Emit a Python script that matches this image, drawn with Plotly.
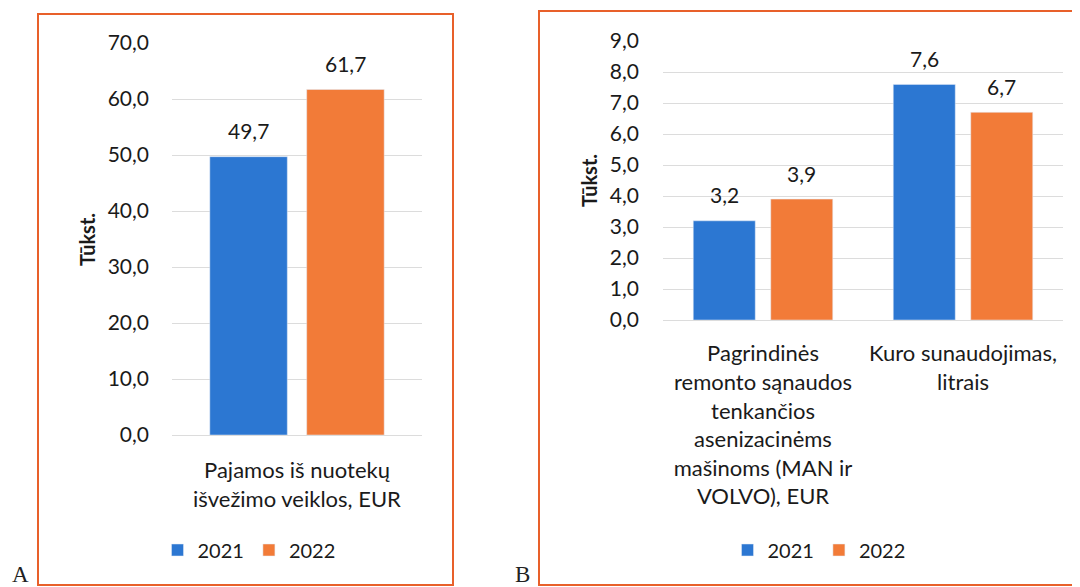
import plotly.graph_objects as go

# ---- data ----
years = ["2021", "2022"]
cats_a = ["Pajamos iš nuotekų<br>išvežimo veiklos, EUR"]
vals_a_2021 = [49.7]
vals_a_2022 = [61.7]

cats_b = ["Pagrindinės<br>remonto sąnaudos<br>tenkančios<br>asenizacinėms<br>mašinoms (MAN ir<br>VOLVO), EUR",
          "Kuro sunaudojimas,<br>litrais"]
vals_b_2021 = [3.2, 7.6]
vals_b_2022 = [3.9, 6.7]

yticks_a = [0, 10, 20, 30, 40, 50, 60, 70]
yticks_b = [0, 1, 2, 3, 4, 5, 6, 7, 8, 9]

# ---- style ----
W, H = 1080, 587
OX, OY = 8, 8          # page offset of the figure in the browser
FONT = "Lato"
BLUE = "#2C77D2"
ORANGE = "#F27B38"
BORDER = "#E8602A"
GRID = "#DCDCDC"
TXT = "#1a1a1a"
BARGAP = 0.225
GROUPGAP = 0.2

def px(x):
    return (x - OX) / W

def py(y):
    return 1 - (y - OY) / H

fig = go.Figure()

fig.add_trace(go.Bar(x=cats_a, y=vals_a_2021, name=years[0], marker_color=BLUE,
                     xaxis="x", yaxis="y", legend="legend"))
fig.add_trace(go.Bar(x=cats_a, y=vals_a_2022, name=years[1], marker_color=ORANGE,
                     xaxis="x", yaxis="y", legend="legend"))
fig.add_trace(go.Bar(x=cats_b, y=vals_b_2021, name=years[0], marker_color=BLUE,
                     xaxis="x2", yaxis="y2", legend="legend2"))
fig.add_trace(go.Bar(x=cats_b, y=vals_b_2022, name=years[1], marker_color=ORANGE,
                     xaxis="x2", yaxis="y2", legend="legend2"))

# plot areas (pixel positions in the reference)
A_L, A_R, A_T, A_B = 172, 422, 43, 435
B_L, B_R, B_T, B_B = 663, 1063, 41, 320

annotations = []

def add_labels(cats, v1, v2, xa, ya, left, right):
    cw = (right - left) / len(cats)
    off = cw * (1 - BARGAP) / 4
    for c, a, b in zip(cats, v1, v2):
        for val, sh in ((a, -off), (b, off)):
            annotations.append(dict(x=c, y=val, xref=xa, yref=ya, text=f"{val:.1f}".replace(".", ","),
                                    showarrow=False, xshift=sh, yshift=26, yanchor="middle",
                                    font=dict(family=FONT, size=21, color=TXT)))

add_labels(cats_a, vals_a_2021, vals_a_2022, "x", "y", A_L, A_R)
add_labels(cats_b, vals_b_2021, vals_b_2022, "x2", "y2", B_L, B_R)

# y-axis titles
annotations.append(dict(x=px(87), y=py(240), xref="paper", yref="paper", text="<b>Tūkst.</b>",
                        xanchor="center", yanchor="middle",
                        textangle=-90, showarrow=False, font=dict(family=FONT, size=20, color=TXT)))
annotations.append(dict(x=px(589), y=py(181), xref="paper", yref="paper", text="<b>Tūkst.</b>",
                        xanchor="center", yanchor="middle",
                        textangle=-90, showarrow=False, font=dict(family=FONT, size=20, color=TXT)))
# panel letters
annotations.append(dict(x=px(20), y=py(574), xref="paper", yref="paper", text="A", showarrow=False,
                        xanchor="center", yanchor="middle",
                        font=dict(family="Liberation Serif", size=23, color="#222")))
annotations.append(dict(x=px(522), y=py(574), xref="paper", yref="paper", text="B", showarrow=False,
                        xanchor="center", yanchor="middle",
                        font=dict(family="Liberation Serif", size=23, color="#222")))

shapes = [
    dict(type="rect", xref="paper", yref="paper", x0=px(38), x1=px(453), y0=py(585), y1=py(14),
         line=dict(color=BORDER, width=2)),
    dict(type="rect", xref="paper", yref="paper", x0=px(539), x1=px(1100), y0=py(585), y1=py(11),
         line=dict(color=BORDER, width=2)),
]

tickfont = dict(family=FONT, size=21, color=TXT)
catfont = dict(family=FONT, size=22, color=TXT)

fig.update_layout(
    width=W, height=H,
    margin=dict(l=0, r=0, t=0, b=0, autoexpand=False),
    paper_bgcolor="white", plot_bgcolor="white",
    barmode="group", bargap=BARGAP, bargroupgap=GROUPGAP,
    separators=", ",
    font=dict(family=FONT, color=TXT),
    xaxis=dict(domain=[px(A_L), px(A_R)], anchor="y", showline=True, linecolor=GRID, linewidth=1,
               tickfont=catfont, ticks="", ticklabelstandoff=16, automargin=False),
    yaxis=dict(domain=[py(A_B), py(A_T)], anchor="x", range=[0, 70], tickvals=yticks_a, tickformat=".1f",
               showgrid=True, gridcolor=GRID, zeroline=False, tickfont=tickfont, ticks="",
               ticklabelstandoff=22, automargin=False),
    xaxis2=dict(domain=[px(B_L), px(B_R)], anchor="y2", showline=True, linecolor=GRID, linewidth=1,
                tickfont=catfont, ticks="", ticklabelstandoff=14, automargin=False),
    yaxis2=dict(domain=[py(B_B), py(B_T)], anchor="x2", range=[0, 9], tickvals=yticks_b, tickformat=".1f",
                showgrid=True, gridcolor=GRID, zeroline=False, tickfont=tickfont, ticks="",
                ticklabelstandoff=23, automargin=False),
    legend=dict(orientation="h", x=px(249), xanchor="center", y=py(550), yanchor="middle",
                font=dict(family=FONT, size=20, color=TXT), itemwidth=30, bgcolor="rgba(0,0,0,0)"),
    legend2=dict(orientation="h", x=px(819), xanchor="center", y=py(550), yanchor="middle",
                 font=dict(family=FONT, size=20, color=TXT), itemwidth=30, bgcolor="rgba(0,0,0,0)"),
    annotations=annotations,
    shapes=shapes,
)

fig.write_html("out.html")
